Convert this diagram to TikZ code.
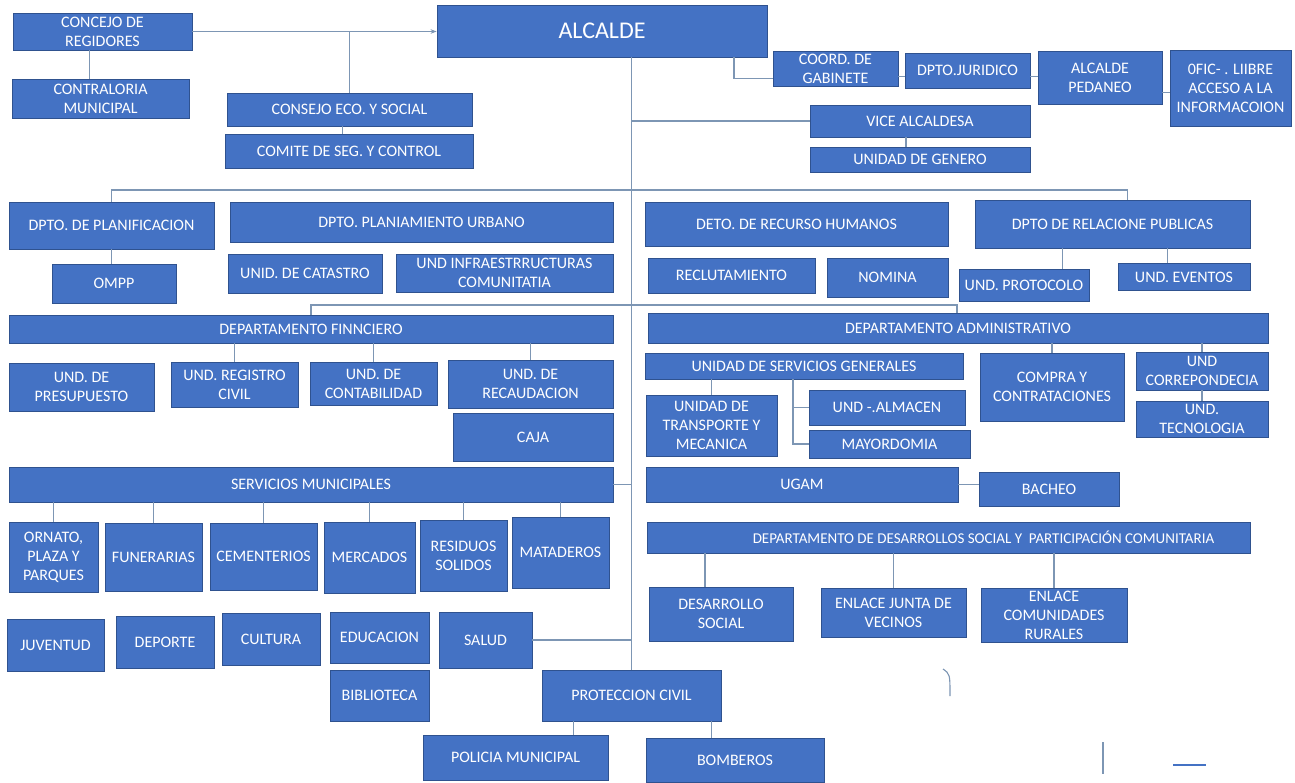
\documentclass[tikz,border=0pt]{standalone}
\usepackage{fontspec}
\setmainfont{Carlito}
\usetikzlibrary{arrows.meta}
\definecolor{boxblue}{HTML}{4472C4}
\definecolor{boxedge}{HTML}{2F528F}
\definecolor{linkgray}{RGB}{125,150,180}

\begin{document}
\begin{tikzpicture}[x=1pt, y=-1pt,
  box/.style={draw=boxedge, fill=boxblue, text=white, align=center, inner sep=1pt,
    line width=0.8pt, font=\fontsize{16}{19}\selectfont},
  wh/.style 2 args={minimum width=#1pt, minimum height=#2pt},
  lnk/.style={draw=linkgray, line width=1.1pt}]
\fill[white] (0,0) rectangle (1295,782);
\useasboundingbox (0,0) rectangle (1295,782);

\node (concejo) at (102.5,31.5) [box, wh={179}{37}] {CONCEJO DE\\REGIDORES};
\node (contral) at (100.5,98.5) [box, wh={177}{39}] {CONTRALORIA\\MUNICIPAL};
\node (alcalde) at (602,31) [box, wh={330}{52}, font=\fontsize{24}{28}\selectfont] {ALCALDE};
\node (consejo) at (349.5,109.5) [box, wh={245}{33}] {CONSEJO ECO. Y SOCIAL};
\node (comite) at (349,151) [box, wh={248}{34}] {COMITE DE SEG. Y CONTROL};
\node (coord) at (835.5,68.5) [box, wh={125}{35}] {COORD. DE\\GABINETE};
\node (juridico) at (967.5,70.5) [box, wh={125}{35}] {DPTO.JURIDICO};
\node (pedaneo) at (1100,77.5) [box, wh={124}{53}] {ALCALDE\\PEDANEO};
\node (ofic) at (1230.5,88) [box, wh={121}{76}] {0FIC- . LIIBRE\\ACCESO A LA\\INFORMACOION};
\node (vice) at (920,121) [box, wh={220}{32}] {VICE ALCALDESA};
\node (genero) at (920,159.5) [box, wh={220}{25}] {UNIDAD DE GENERO};

\node (planif) at (111.5,225.5) [box, wh={205}{47}] {DPTO. DE PLANIFICACION};
\node (ompp) at (114,283.5) [box, wh={124}{39}] {OMPP};
\node (planiam) at (421.5,222) [box, wh={383}{40}] {DPTO. PLANIAMIENTO URBANO};
\node (catastro) at (305,273.5) [box, wh={154}{39}] {UNID. DE CATASTRO};
\node (infra) at (504.5,273) [box, wh={217}{38}] {UND INFRAESTRRUCTURAS\\COMUNITATIA};
\node (rrhh) at (796.5,224) [box, wh={303}{44}] {DETO. DE RECURSO HUMANOS};
\node (reclut) at (731.5,275.5) [box, wh={167}{35}] {RECLUTAMIENTO};
\node (nomina) at (887.5,277.5) [box, wh={121}{39}] {NOMINA};
\node (relac) at (1112.5,224) [box, wh={275}{48}] {DPTO DE RELACIONE PUBLICAS};
\node (protocolo) at (1024,285) [box, wh={130}{32}] {UND. PROTOCOLO};
\node (eventos) at (1184,277) [box, wh={132}{27}] {UND. EVENTOS};

\node (financ) at (311,329) [box, wh={604}{28}] {DEPARTAMENTO FINNCIERO};
\node (presup) at (81.5,387) [box, wh={145}{48}] {UND. DE\\PRESUPUESTO};
\node (registro) at (234.5,384.5) [box, wh={127}{45}] {UND. REGISTRO\\CIVIL};
\node (contab) at (373.5,383.5) [box, wh={127}{43}] {UND. DE\\CONTABILIDAD};
\node (recaud) at (530.5,384) [box, wh={165}{48}] {UND. DE\\RECAUDACION};
\node (caja) at (533,437) [box, wh={160}{48}] {CAJA};
\node (admin) at (958,328) [box, wh={620}{30}] {DEPARTAMENTO ADMINISTRATIVO};
\node (servgen) at (804,366) [box, wh={318}{26}] {UNIDAD DE SERVICIOS GENERALES};
\node (transp) at (711.5,425.5) [box, wh={131}{61}] {UNIDAD DE\\TRANSPORTE Y\\MECANICA};
\node (almacen) at (887,407.5) [box, wh={156}{35}] {UND -.ALMACEN};
\node (mayord) at (889.5,444) [box, wh={161}{28}] {MAYORDOMIA};
\node (compra) at (1052,387) [box, wh={144}{68}] {COMPRA Y\\CONTRATACIONES};
\node (corresp) at (1202,371) [box, wh={132}{38}] {UND\\CORREPONDECIA};
\node (tecno) at (1202,419) [box, wh={132}{36}] {UND.\\TECNOLOGIA};

\node (servmun) at (311,484.5) [box, wh={604}{35}] {SERVICIOS MUNICIPALES};
\node (ornato) at (53.5,557) [box, wh={89}{70}] {ORNATO,\\PLAZA Y\\PARQUES};
\node (funer) at (153.5,557) [box, wh={97}{68}] {FUNERARIAS};
\node (cement) at (263.5,556.5) [box, wh={107}{67}] {CEMENTERIOS};
\node (mercad) at (369.5,557.5) [box, wh={91}{71}] {MERCADOS};
\node (residuos) at (463.5,555.5) [box, wh={87}{71}] {RESIDUOS\\SOLIDOS};
\node (matad) at (560.5,552.5) [box, wh={97}{71}] {MATADEROS};
\node (ugam) at (802,484.5) [box, wh={312}{35}] {UGAM};
\node (bacheo) at (1049,489) [box, wh={140}{34}] {BACHEO};
\node (desarr) at (948.5,537.5) [box, wh={603}{31}, font=\fontsize{15}{18}\selectfont] {\hspace*{70pt}DEPARTAMENTO DE DESARROLLOS SOCIAL Y \ PARTICIPACIÓN COMUNITARIA};
\node (dsocial) at (721,614) [box, wh={144}{54}] {DESARROLLO\\SOCIAL};
\node (junta) at (893.5,612.5) [box, wh={145}{49}] {ENLACE JUNTA DE\\VECINOS};
\node (rurales) at (1054,615) [box, wh={146}{54}] {ENLACE\\COMUNIDADES\\RURALES};

\node (juventud) at (55.5,645) [box, wh={97}{52}] {JUVENTUD};
\node (deporte) at (165,642) [box, wh={98}{52}] {DEPORTE};
\node (cultura) at (271,639) [box, wh={98}{52}] {CULTURA};
\node (educ) at (379.5,637.5) [box, wh={99}{51}] {EDUCACION};
\node (salud) at (485.5,640) [box, wh={93}{56}] {SALUD};
\node (biblio) at (379.5,695.5) [box, wh={99}{51}] {BIBLIOTECA};
\node (protec) at (631.5,695.5) [box, wh={179}{51}] {PROTECCION CIVIL};
\node (policia) at (515.5,757.5) [box, wh={185}{45}] {POLICIA MUNICIPAL};
\node (bomberos) at (735,760) [box, wh={178}{44}] {BOMBEROS};

\coordinate (bar1) at (632,190);
\coordinate (bar2) at (632,305);
\coordinate (sg) at ([xshift=-11pt]servgen.south);

\draw[lnk] (alcalde.south -| protec.north) -- (protec.north);
\draw[lnk, -{Stealth[length=6pt]}] (concejo.east) -- (concejo.east -| alcalde.west);
\draw[lnk] ([xshift=-13pt]concejo.south) -- ([xshift=-13pt]concejo.south |- contral.north);
\draw[lnk] (consejo.north) -- (consejo.north |- concejo.east);
\draw[lnk] ([xshift=-7pt]consejo.south) -- ([xshift=-7pt]consejo.south |- comite.north);
\draw[lnk] ([xshift=132pt]alcalde.south) |- ([yshift=-10pt]coord.west);
\draw[lnk] ([yshift=-8pt]coord.east) -- ([yshift=-6pt]juridico.west);
\draw[lnk] ([yshift=-6pt]juridico.east) -- ([yshift=-6pt]juridico.east -| pedaneo.west);
\draw[lnk] ([yshift=-15pt]pedaneo.east) -- ([yshift=-15pt]pedaneo.east -| ofic.west);
\draw[lnk] (vice.west) -- (vice.west -| protec.north);
\draw[lnk] ([xshift=-14pt]vice.south) -- ([xshift=-14pt]vice.south |- genero.north);

\draw[lnk] (planif.north) |- (bar1) -| ([xshift=15pt]relac.north);
\draw[lnk] (planif.south) -- (planif.south |- ompp.north);
\draw[lnk] ([xshift=-50pt]relac.south) -- ([xshift=-50pt]relac.south |- protocolo.north);
\draw[lnk] ([xshift=55pt]relac.south) -- ([xshift=55pt]relac.south |- eventos.north);

\draw[lnk] (financ.north) |- (bar2) -| ([xshift=-1pt]admin.north);
\foreach \n in {registro, contab, recaud}
  \draw[lnk] (\n.north |- financ.south) -- (\n.north);
\draw[lnk] (transp.north |- servgen.south) -- (transp.north);
\draw[lnk] (sg) |- (mayord.west);
\draw[lnk] (almacen.west) -- (almacen.west -| sg);
\draw[lnk] (compra.north |- admin.south) -- (compra.north);
\draw[lnk] (corresp.north |- admin.south) -- (corresp.north);
\draw[lnk] (corresp) -- (tecno);

\draw[lnk] (servmun.east) -- (servmun.east -| protec.north);
\foreach \n in {ornato, funer, cement, mercad, residuos, matad}
  \draw[lnk] (\n.north |- servmun.south) -- (\n.north);
\draw[lnk] (ugam.east) -- (ugam.east -| bacheo.west);
\draw[lnk] ([xshift=-16pt]dsocial.north) -- ([xshift=-16pt]dsocial.north |- desarr.south);
\draw[lnk] (junta.north |- desarr.south) -- (junta.north);
\draw[lnk] (rurales.north |- desarr.south) -- (rurales.north);

\draw[lnk] (salud.east) -- (salud.east -| protec.north);
\draw[lnk] ([xshift=-58pt]protec.south) -- ([xshift=-58pt]protec.south |- policia.north);
\draw[lnk] ([xshift=80pt]protec.south) -- ([xshift=80pt]protec.south |- bomberos.north);

\draw[lnk] (943,669) .. controls (950,674) .. (950,696);
\draw[lnk] (1103,742) -- (1103,774);
\draw[draw=boxblue, line width=1.1pt] (1173,765) -- (1206,765);

\end{tikzpicture}
\end{document}
